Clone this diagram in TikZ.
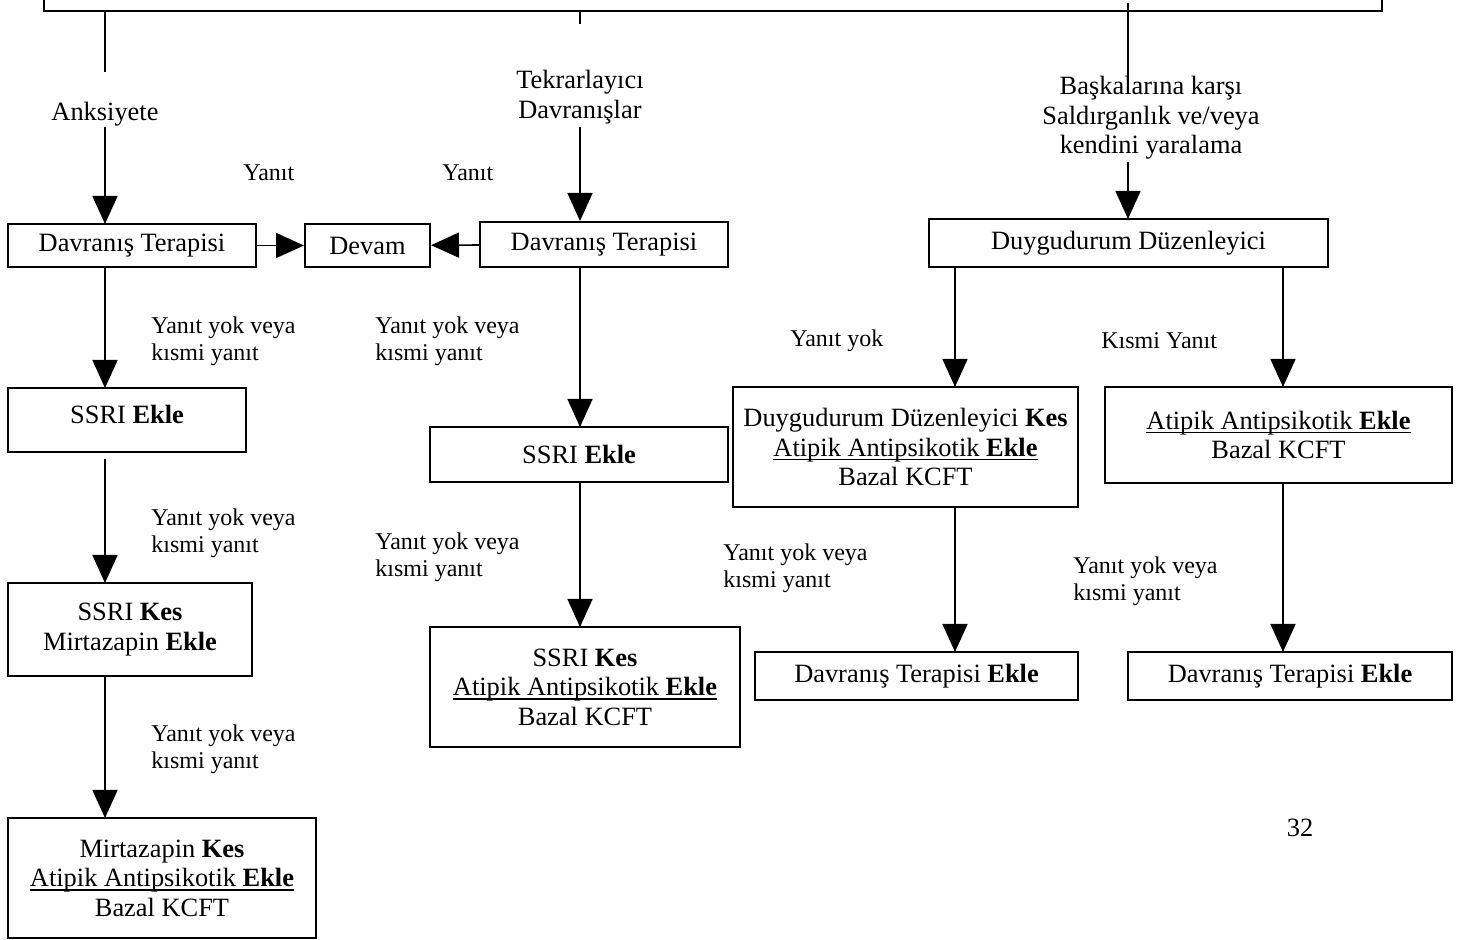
\documentclass[tikz,border=0pt]{standalone}
\usepackage{fontspec}
\setmainfont{Liberation Serif}
\usetikzlibrary{arrows.meta}
\newcommand\myul[1]{\setbox0\hbox{#1}\rlap{\rule[-2pt]{\wd0}{0.6pt}}\box0}
\tikzset{
  box/.style={draw, line width=1pt, inner sep=0pt, align=center, font=\fontsize{13.2}{14.7}\selectfont},
  txt/.style={inner sep=0pt, align=center, font=\fontsize{13.2}{14.7}\selectfont},
  lbl/.style={inner sep=0pt, align=left, anchor=west, font=\fontsize{12}{13.5}\selectfont},
  arr/.style={line width=0.8pt, -{Triangle[length=14pt,width=12.5pt]}},
  ln/.style={line width=0.8pt},
}
\begin{document}
\begin{tikzpicture}[x=0.5pt,y=-0.5pt]
\useasboundingbox (0,0) rectangle (1468,940);
% top box (cut)
\draw[line width=1pt] (44,0) -- (44,11) -- (1382,11) -- (1382,0);
\coordinate (t1) at (105,11);
\coordinate (t1e) at (105,72);
\coordinate (t2) at (580,11);
\coordinate (t2e) at (580,24);
\coordinate (t3) at (1128,3);
\coordinate (t3e) at (1128,80);
\draw[ln] (t1) -- (t1e);
\draw[ln] (t2) -- (t2e);
\draw[ln] (t3) -- (t3e);

% category labels
\node[txt] (anks) at (105,114) {Anksiyete};
\node[txt] (tekr) at (580,97) {Tekrarlayıcı\\Davranışlar};
\node[txt] (bask) at (1151,118) {Başkalarına karşı\\Saldırganlık ve/veya\\kendini yaralama};

% row 1 boxes
\node[box, minimum width=124pt, minimum height=21.5pt] (dt1) at (132,245.5) {Davranış Terapisi};
\node[box, minimum width=62.5pt, minimum height=21.5pt] (devam) at (367.5,245.5) {Devam};
\node[box, minimum width=124pt, minimum height=22.5pt] (dt2) at (604,244.5) {Davranış Terapisi};
\node[box, minimum width=199.5pt, minimum height=24pt] (dd) at (1128.5,243) {Duygudurum Düzenleyici};

\node[lbl] (y1) at (243,173) {Yanıt};
\node[lbl] (y2) at (442,173) {Yanıt};

\draw[arr] (105,127) -- (105,224);
\draw[arr] (580,127) -- (580,221);
\draw[arr] (1128,162) -- (1128,219);
\draw[arr] (dt1) -- (devam);
\draw[arr] (dt2) -- (devam);

% column 1
\node[box, minimum width=119pt, minimum height=32pt] (c1a) at (127,420) {\raisebox{5.5pt}{SSRI \textbf{Ekle}}};
\node[box, minimum width=122pt, minimum height=46.5pt] (c1b) at (130,629.5) {SSRI \textbf{Kes}\\Mirtazapin \textbf{Ekle}};
\node[box, minimum width=154pt, minimum height=60pt] (c1c) at (162,878) {Mirtazapin \textbf{Kes}\\\myul{Atipik Antipsikotik \textbf{Ekle}}\\Bazal KCFT};
\draw[arr] (105,267) -- (105,388);
\draw[arr] (105,459) -- (105,583);
\draw[arr] (105,676) -- (105,818);
\node[lbl] (l1a) at (151,341) {Yanıt yok veya\\kısmi yanıt};
\node[lbl] (l1b) at (151,533) {Yanıt yok veya\\kısmi yanıt};
\node[lbl] (l1c) at (151,749) {Yanıt yok veya\\kısmi yanıt};

% column 2
\node[box, minimum width=149pt, minimum height=27.5pt] (c2a) at (579,454.5) {SSRI \textbf{Ekle}};
\node[box, minimum width=155pt, minimum height=60pt] (c2b) at (585,687) {SSRI \textbf{Kes}\\\myul{Atipik Antipsikotik \textbf{Ekle}}\\Bazal KCFT};
\draw[arr] (580,267) -- (580,427);
\draw[arr] (580,482) -- (580,627);
\node[lbl] (l2a) at (375,341) {Yanıt yok veya\\kısmi yanıt};
\node[lbl] (l2b) at (375,557) {Yanıt yok veya\\kısmi yanıt};

% column 3
\node[box, minimum width=172.5pt, minimum height=60pt] (c3a) at (905.5,447) {Duygudurum Düzenleyici \textbf{Kes}\\\myul{Atipik Antipsikotik \textbf{Ekle}}\\Bazal KCFT};
\node[box, minimum width=161.5pt, minimum height=24pt] (c3b) at (916.5,676) {Davranış Terapisi \textbf{Ekle}};
\draw[arr] (955,267) -- (955,387);
\draw[arr] (955,507) -- (955,652);
\node[lbl] (l3y) at (790,341) {Yanıt yok};
\node[lbl] (l3a) at (723,568) {Yanıt yok veya\\kısmi yanıt};

% column 4
\node[box, minimum width=173.5pt, minimum height=48pt] (c4a) at (1278.5,435) {\myul{Atipik Antipsikotik \textbf{Ekle}}\\Bazal KCFT};
\node[box, minimum width=162pt, minimum height=24pt] (c4b) at (1290,676) {Davranış Terapisi \textbf{Ekle}};
\draw[arr] (1283,267) -- (1283,387);
\draw[arr] (1283,483) -- (1283,652);
\node[lbl] (l4y) at (1101,341) {Kısmi Yanıt};
\node[lbl] (l4a) at (1073,581) {Yanıt yok veya\\kısmi yanıt};

\node[txt] (pg) at (1300,828) {32};
\end{tikzpicture}
\end{document}
